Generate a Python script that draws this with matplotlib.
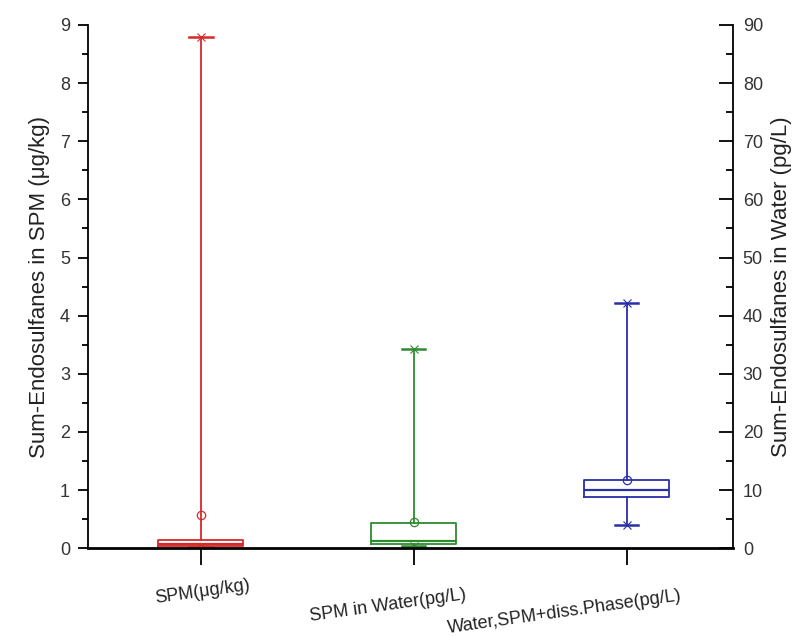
import numpy as np
import matplotlib
matplotlib.use("Agg")
import matplotlib.pyplot as plt
from matplotlib.ticker import MultipleLocator

plt.rcParams['font.family'] = ['Liberation Sans', 'DejaVu Sans']

# box statistics (ug/kg scale; right axis = 10x)
labels = ['SPM(μg/kg)', 'SPM in Water(pg/L)', 'Water,SPM+diss.Phase(pg/L)']
q1 = [0.03, 0.08, 0.88]
med = [0.08, 0.13, 1.00]
q3 = [0.15, 0.43, 1.17]
means = [0.57, 0.45, 1.18]
mins = [0.02, 0.03, 0.40]
maxs = [8.80, 3.43, 4.22]
colors = ['#d42a2a', '#2e8a2e', '#2a2ea8']

fig = plt.figure(figsize=(8.1, 6.36), dpi=100)
ax = fig.add_axes([0.1086, 0.138, 0.7964, 0.8227])

for i in range(3):
    st = [dict(med=med[i], q1=q1[i], q3=q3[i], whislo=mins[i], whishi=maxs[i],
               mean=means[i], fliers=[mins[i], maxs[i]])]
    c = colors[i]
    ax.bxp(st, positions=[i + 1], widths=0.4, capwidths=0.11, showmeans=True,
           boxprops=dict(color=c, lw=1.3), whiskerprops=dict(color=c, lw=1.3),
           capprops=dict(color=c, lw=1.8), medianprops=dict(color=c, lw=1.6),
           meanprops=dict(marker='o', markerfacecolor='none', markeredgecolor=c,
                          markersize=6, markeredgewidth=0.9),
           flierprops=dict(marker='x', markeredgecolor=c, markersize=6,
                           markeredgewidth=0.8))

ax.set_xlim(0.47, 3.5)
ax.set_ylim(0, 9)
ax.yaxis.set_major_locator(MultipleLocator(1))
ax.yaxis.set_minor_locator(MultipleLocator(0.5))
ax.set_xticks([1, 2, 3])
ax.set_xticklabels([])
ax.spines['top'].set_visible(False)
ax.spines['right'].set_visible(False)
ax.spines['bottom'].set_linewidth(2)
ax.spines['left'].set_linewidth(1.3)
ax.tick_params(axis='y', which='major', direction='out', length=7, width=1.3,
               labelsize=13, labelcolor='#333333', pad=6)
ax.tick_params(axis='y', which='minor', direction='out', length=4, width=1.3)
ax.tick_params(axis='x', direction='out', length=12, width=1.3)
ax.set_ylabel('Sum-Endosulfanes in SPM (μg/kg)', fontsize=16, color='#222222', labelpad=7)

ax2 = ax.twinx()
ax2.set_ylim(0, 90)
ax2.yaxis.set_major_locator(MultipleLocator(10))
ax2.yaxis.set_minor_locator(MultipleLocator(5))
for s in ['top', 'left', 'bottom']:
    ax2.spines[s].set_visible(False)
ax2.spines['right'].set_linewidth(1.3)
ax2.tick_params(axis='y', which='major', direction='in', length=10, width=1.3,
                labelsize=13, labelcolor='#333333', pad=7)
ax2.tick_params(axis='y', which='minor', direction='in', length=5, width=1.3)
ax2.set_ylabel('Sum-Endosulfanes in Water (pg/L)', fontsize=16, color='#222222', labelpad=6)

# staggered, slightly rotated category labels
lab_x = [1.01, 1.88, 2.71]
lab_y = [-0.084, -0.11, -0.122]
for i in range(3):
    ax.text(lab_x[i], lab_y[i], labels[i], transform=ax.get_xaxis_transform(),
            ha='center', va='center', rotation=8, fontsize=13, color='#222222')

fig.savefig('out.png', dpi=100)
